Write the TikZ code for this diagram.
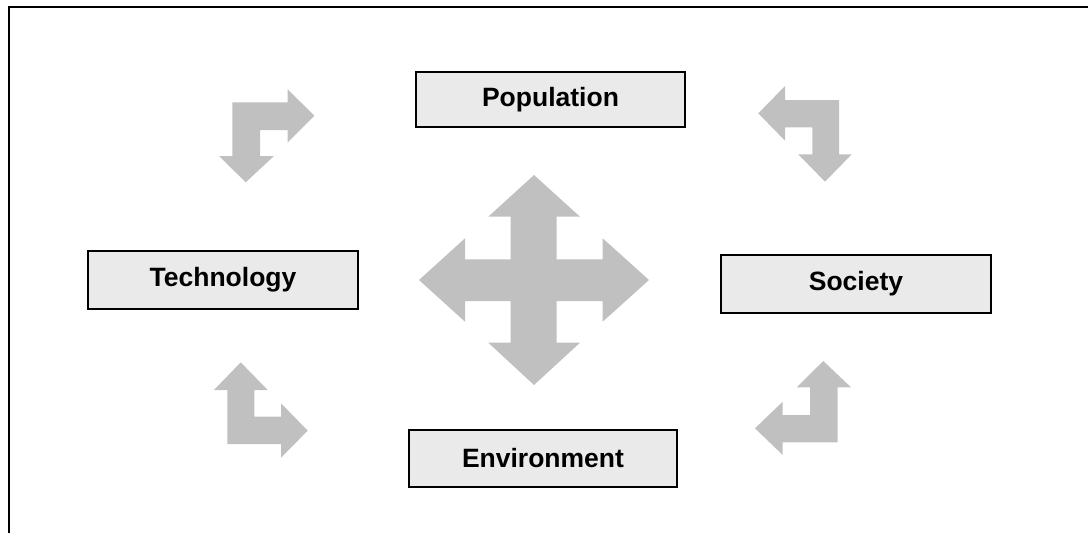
\documentclass[tikz,border=0pt]{standalone}
\usepackage{fontspec}
\setmainfont{Liberation Sans}
\begin{document}
\begin{tikzpicture}[x=1pt,y=-1pt,
  box/.style={draw=black,line width=1.4pt,fill={rgb,255:red,234;green,234;blue,234},
    minimum width=#1,inner sep=0pt,font=\fontsize{26.5}{30}\selectfont\bfseries},
  blockarrow/.style={fill={rgb,255:red,192;green,192;blue,192},draw=none}]
\useasboundingbox (0,0) rectangle (1088,533);
% frame
\draw[line width=2pt] (8.5,533) -- (8.5,6.5) -- (1088,6.5);
% boxes
\node[box=269pt,minimum height=55pt] (pop) at (550.5,99.5) {Population};
\node[box=270pt,minimum height=58pt] (tech) at (223,280) {Technology};
\node[box=270pt,minimum height=58pt] (soc) at (856,284) {Society};
\node[box=268pt,minimum height=57pt] (env) at (543,458.5) {Environment};
% top-left bent arrow
\fill[blockarrow] (232.3,156) -- (232.3,102.3) -- (287.7,102.3) -- (287.7,89.3) -- (314.3,115.7)
  -- (287.7,142.3) -- (287.7,130) -- (260,130) -- (260,156) -- (274,156) -- (245.7,182.3)
  -- (219,156) -- cycle;
% top-right bent arrow
\fill[blockarrow] (785,100) -- (785,86) -- (758.3,113.3) -- (785,140.7) -- (785,127.3)
  -- (812.3,127.3) -- (812.3,154.3) -- (798.3,154.3) -- (825,181.7) -- (851.7,154.3)
  -- (839,154.3) -- (839,100) -- cycle;
% bottom-left bent arrow
\fill[blockarrow] (240.7,362.3) -- (267.7,390) -- (254.3,390) -- (254.3,416.7) -- (281,416.7)
  -- (281,403.3) -- (307.7,430.7) -- (281,457.7) -- (281,444) -- (227.3,444) -- (227.3,390)
  -- (214,390) -- cycle;
% bottom-right bent arrow
\fill[blockarrow] (823.3,361) -- (851,387.3) -- (837.7,387.3) -- (837.7,442.3) -- (782.7,442.3)
  -- (782.7,455) -- (755,428.3) -- (782.7,401.7) -- (782.7,415) -- (810,415) -- (810,387.3)
  -- (796.7,387.3) -- cycle;
% central four-way arrow
\fill[blockarrow] (534,175) -- (580,216.7) -- (556.7,216.7) -- (556.7,259.3) -- (602.7,259.3)
  -- (602.7,238.3) -- (649,280) -- (602.7,321.7) -- (602.7,301) -- (556.7,301) -- (556.7,342.7)
  -- (580,342.7) -- (534,385) -- (488.3,342.7) -- (510.7,342.7) -- (510.7,301) -- (465,301)
  -- (465,321.7) -- (419,280) -- (465,238.3) -- (465,259.3) -- (510.7,259.3) -- (510.7,216.7)
  -- (488.3,216.7) -- cycle;
\end{tikzpicture}
\end{document}
